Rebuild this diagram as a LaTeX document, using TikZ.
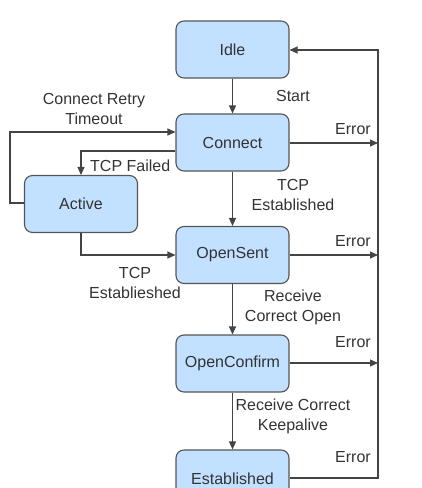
\documentclass[tikz,border=0pt]{standalone}
\usepackage{fontspec}
\setmainfont{Liberation Sans}
\usetikzlibrary{arrows.meta}
\definecolor{boxfill}{HTML}{C2E0FF}
\definecolor{boxline}{HTML}{555555}
\definecolor{txt}{HTML}{333333}
\definecolor{wire}{HTML}{444444}
\tikzset{
  state/.style={draw=boxline, line width=1.1pt, fill=boxfill, rounded corners=8pt,
    minimum width=113pt, minimum height=57pt, inner sep=0pt, text=txt,
    font=\fontsize{16}{20}\selectfont},
  lbl/.style={text=txt, font=\fontsize{16}{20}\selectfont, align=center, inner sep=0pt},
  conn/.style={draw=wire, line width=1.1pt, -{Triangle[length=8pt,width=7pt]}},
  plain/.style={draw=wire, line width=1.1pt}
}
\begin{document}
\begin{tikzpicture}[x=1pt,y=-1pt]
\useasboundingbox (0,0) rectangle (421,488);
\clip (0,0) rectangle (421,488);
\node[state] (idle) at (232.5,49.5) {Idle};
\node[state] (connect) at (232.5,142.5) {Connect};
\node[state] (active) at (81,204) {Active};
\node[state] (opensent) at (232.5,255) {OpenSent};
\node[state] (openconfirm) at (232.5,363.5) {OpenConfirm};
\node[state] (established) at (232.5,478.5) {Established};

\coordinate (busIdle) at (378,50);
\coordinate (busC) at (378,143);
\coordinate (busS) at (378,255);
\coordinate (busO) at (378,363);
\coordinate (busE) at (378,478);
\coordinate (loopL) at (10,203);
\coordinate (loopT) at (10,132);

\draw[conn] (idle.south) -- (connect.north);
\draw[conn] (connect.south) -- (opensent.north);
\draw[conn] (opensent.south) -- (openconfirm.north);
\draw[conn] (openconfirm.south) -- (established.north);

\draw[conn] (connect.east |- busC) -- (busC);
\draw[conn] (opensent.east |- busS) -- (busS);
\draw[conn] (openconfirm.east |- busO) -- (busO);
\draw[conn] (established.east |- busE) -- (busE) -- (busIdle) -- (idle.east |- busIdle);

\draw[conn] (connect.west |- 0,151) -| (active.north);
\draw[conn] (active.west |- loopL) -- (loopL) -- (loopT) -- (connect.west |- loopT);
\draw[conn] (active.south) |- (opensent.west);

\node[lbl] (start) at (293,96) {Start};
\node[lbl] (e1) at (353,129) {Error};
\node[lbl] (e2) at (353,241) {Error};
\node[lbl] (e3) at (353,342) {Error};
\node[lbl] (e4) at (353,457) {Error};
\node[lbl] (retry) at (94,108.5) {Connect Retry\\Timeout};
\node[lbl, anchor=west] (failed) at (90,166) {TCP Failed};
\node[lbl] (tcpest) at (293,195) {TCP\\Established};
\node[lbl] (tcpest2) at (135,282.5) {TCP\\Establieshed};
\node[lbl] (rco) at (293,307) {Receive\\Correct Open};
\node[lbl] (rck) at (293,416) {Receive Correct\\Keepalive};
\end{tikzpicture}
\end{document}
